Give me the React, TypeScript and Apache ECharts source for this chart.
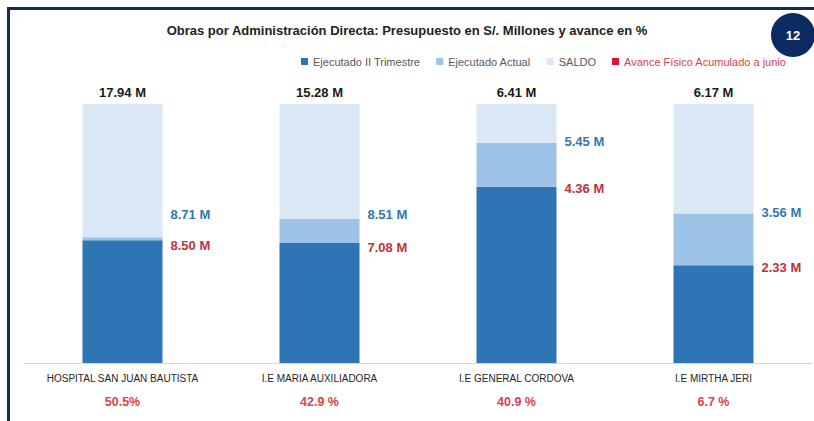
import React, { useEffect, useRef } from "react";
import * as echarts from "echarts";

const categories = [
  "HOSPITAL SAN JUAN BAUTISTA",
  "I.E MARIA AUXILIADORA",
  "I.E GENERAL CORDOVA",
  "I.E MIRTHA JERI",
];
const presupuesto = [17.94, 15.28, 6.41, 6.17];
const ejecutadoActual = [8.71, 8.51, 5.45, 3.56];
const ejecutadoTrimestre = [8.5, 7.08, 4.36, 2.33];
const avanceFisico = ["50.5%", "42.9 %", "40.9 %", "6.7 %"];

const FONT = "'Liberation Sans', Arial, sans-serif";
const C_DARK = "#2e75b6";
const C_LIGHT = "#9dc3e6";
const C_SALDO = "#dae8f5";
const C_REDLBL = "#c3303a";
const C_BLUELBL = "#2f78b4";
const NAVY = "#17285a";

export default function App() {
  const ref = useRef<HTMLDivElement>(null);
  useEffect(() => {
    document.body.style.margin = "0";
    const chart = echarts.init(ref.current!, null, { renderer: "svg" });

    const darkVals = ejecutadoTrimestre.map((v, i) => v / presupuesto[i]);
    const lightVals = ejecutadoActual.map(
      (v, i) => (v - ejecutadoTrimestre[i]) / presupuesto[i]
    );
    const saldoVals = ejecutadoActual.map((v, i) => 1 - v / presupuesto[i]);

    const sideLabel = (color: string, values: number[]) => ({
      show: true,
      position: ["100%", 0],
      align: "left",
      verticalAlign: "middle",
      fontFamily: FONT,
      fontSize: 13,
      fontWeight: "bold",
      color,
      formatter: (p: any) => values[p.dataIndex].toFixed(2) + " M",
    });

    chart.setOption({
      animation: false,
      textStyle: { fontFamily: FONT },
      title: {
        text: "Obras por Administración Directa: Presupuesto en S/. Millones y avance en %",
        left: "center",
        top: 19,
        textStyle: {
          fontFamily: FONT,
          fontSize: 13,
          fontWeight: "bold",
          color: "#222222",
        },
      },
      legend: {
        left: 296,
        top: 51,
        itemGap: 16,
        itemWidth: 7,
        itemHeight: 7,
        icon: "rect",
        selectedMode: false,
        textStyle: { fontFamily: FONT, fontSize: 11, color: "#595959" },
        data: [
          { name: "Ejecutado II Trimestre" },
          { name: "Ejecutado Actual" },
          { name: "SALDO" },
          {
            name: "Avance Físico Acumulado a junio",
            textStyle: { color: "#e0404a" },
          },
        ],
      },
      grid: { left: 24, right: 2, top: 104, bottom: 58 },
      xAxis: {
        type: "category",
        data: categories,
        axisLine: { lineStyle: { color: "#d9d9d9", width: 1 } },
        axisTick: { show: false },
        axisLabel: {
          interval: 0,
          margin: 4,
          formatter: (v: string, i: number) =>
            `{name|${v}}\n{pct|${avanceFisico[i]}}`,
          rich: {
            name: {
              fontFamily: FONT,
              fontSize: 10,
              color: "#262626",
              lineHeight: 22,
            },
            pct: {
              fontFamily: FONT,
              fontSize: 12.5,
              fontWeight: "bold",
              color: "#e0404a",
              lineHeight: 26,
            },
          },
        },
      },
      yAxis: {
        type: "value",
        min: 0,
        max: 1,
        show: false,
        splitLine: { show: false },
      },
      series: [
        {
          name: "Ejecutado II Trimestre",
          type: "bar",
          stack: "a",
          barWidth: 80,
          silent: true,
          itemStyle: { color: C_DARK },
          data: darkVals,
          label: sideLabel(C_REDLBL, ejecutadoTrimestre),
          labelLayout: (p: any) => {
            const i = p.dataIndex;
            const gap =
              (p.rect.height * (ejecutadoActual[i] - ejecutadoTrimestre[i])) /
              ejecutadoTrimestre[i];
            return { dx: 8, dy: gap < 30 ? 5 : 2 };
          },
        },
        {
          name: "Ejecutado Actual",
          type: "bar",
          stack: "a",
          silent: true,
          itemStyle: { color: C_LIGHT },
          data: lightVals,
          label: sideLabel(C_BLUELBL, ejecutadoActual),
          labelLayout: (p: any) => {
            const gap = p.rect.height;
            return { dx: 8, dy: gap < 30 ? -Math.max(4, 26 - gap) : -1 };
          },
        },
        {
          name: "SALDO",
          type: "bar",
          stack: "a",
          silent: true,
          itemStyle: { color: C_SALDO },
          data: saldoVals,
          label: {
            show: true,
            position: "top",
            distance: 5,
            fontFamily: FONT,
            fontSize: 13,
            fontWeight: "bold",
            color: "#1a1a1a",
            formatter: (p: any) => presupuesto[p.dataIndex].toFixed(2) + " M",
          },
        },
        {
          name: "Avance Físico Acumulado a junio",
          type: "bar",
          stack: "a",
          silent: true,
          itemStyle: { color: "#e8102a" },
          data: [],
        },
      ],
      graphic: [
        {
          type: "rect",
          shape: { x: 8, y: 7, width: 806, height: 3 },
          style: { fill: NAVY },
          silent: true,
        },
        {
          type: "rect",
          shape: { x: 7, y: 7, width: 3, height: 414 },
          style: { fill: NAVY },
          silent: true,
        },
        {
          type: "circle",
          shape: { cx: 793, cy: 35, r: 22 },
          style: { fill: "#0e2a62" },
          silent: true,
        },
        {
          type: "text",
          x: 793,
          y: 35,
          style: {
            text: "12",
            fill: "#ffffff",
            font: `bold 13px ${FONT}`,
            align: "center",
            verticalAlign: "middle",
          },
          silent: true,
        },
      ],
    });
    return () => chart.dispose();
  }, []);
  return <div ref={ref} style={{ width: 814, height: 421 }} />;
}
